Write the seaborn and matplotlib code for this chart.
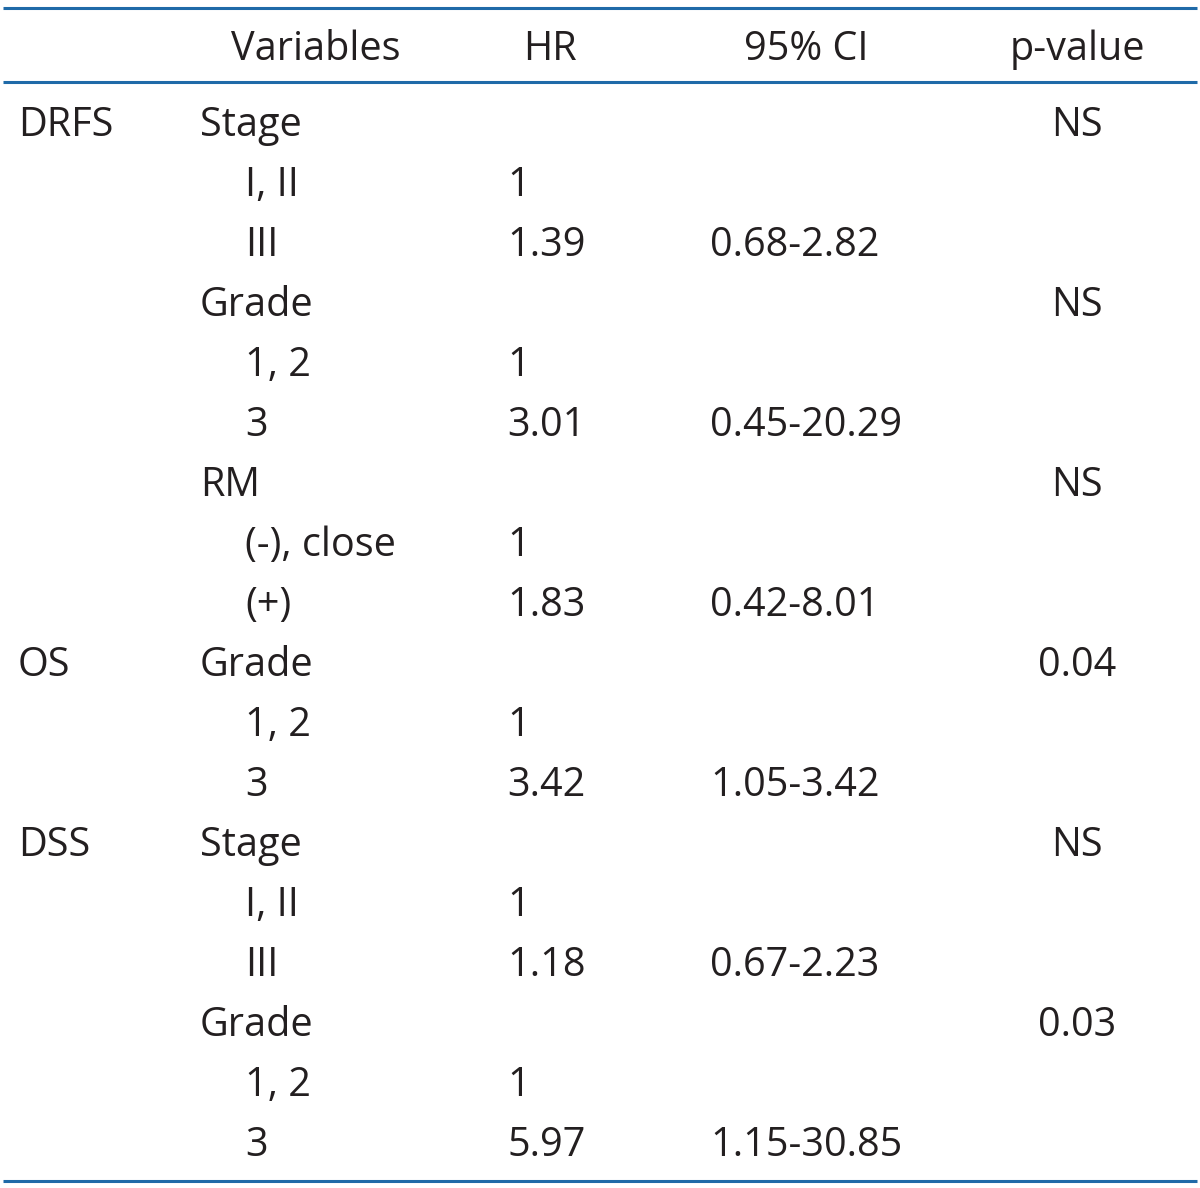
import matplotlib
matplotlib.use("Agg")
import matplotlib.pyplot as plt
import seaborn as sns

# Table content, one entry per body row
outcomes = ["DRFS", "", "", "", "", "", "", "", "", "OS", "", "", "DSS", "", "", "", "", ""]
variables = ["Stage", "I, II", "III", "Grade", "1, 2", "3", "RM", "(-), close", "(+)",
             "Grade", "1, 2", "3", "Stage", "I, II", "III", "Grade", "1, 2", "3"]
is_sublevel = [False, True, True, False, True, True, False, True, True,
               False, True, True, False, True, True, False, True, True]
hr = ["", "1", "1.39", "", "1", "3.01", "", "1", "1.83",
      "", "1", "3.42", "", "1", "1.18", "", "1", "5.97"]
ci = ["", "", "0.68-2.82", "", "", "0.45-20.29", "", "", "0.42-8.01",
      "", "", "1.05-3.42", "", "", "0.67-2.23", "", "", "1.15-30.85"]
pvalues = ["NS", "", "", "NS", "", "", "NS", "", "",
           "0.04", "", "", "NS", "", "", "0.03", "", ""]
headers = ["", "Variables", "HR", "95% CI", "p-value"]

sns.set_theme(style="white")
plt.rcParams["font.family"] = ["Open Sans", "DejaVu Sans"]

RULE = "#1f6aa8"
INK = "#231f20"
FS = 28.5

fig = plt.figure(figsize=(12, 11.88), dpi=100)
ax = fig.add_axes([0, 0, 1, 1])
ax.set_xlim(0, 1200)
ax.set_ylim(1188, 0)
ax.axis("off")

# rules
for y in (8, 82, 1181):
    ax.plot([3, 1197], [y, y], color=RULE, lw=2.2, solid_capstyle="butt")

# header
header_y = 50
ax.text(316, header_y, headers[1], ha="center", va="center", fontsize=FS, color=INK)
ax.text(550, header_y, headers[2], ha="center", va="center", fontsize=FS, color=INK)
ax.text(806, header_y, headers[3], ha="center", va="center", fontsize=FS, color=INK)
ax.text(1077, header_y, headers[4], ha="center", va="center", fontsize=FS, color=INK)

for i in range(len(variables)):
    y = 126 + 60 * i
    if outcomes[i]:
        ax.text(18, y, outcomes[i], ha="left", va="center", fontsize=FS, color=INK)
    x_var = 245 if is_sublevel[i] else 200
    ax.text(x_var, y, variables[i], ha="left", va="center", fontsize=FS, color=INK)
    if hr[i]:
        ax.text(507, y, hr[i], ha="left", va="center", fontsize=FS, color=INK)
    if ci[i]:
        ax.text(710, y, ci[i], ha="left", va="center", fontsize=FS, color=INK)
    if pvalues[i]:
        ax.text(1077, y, pvalues[i], ha="center", va="center", fontsize=FS, color=INK)

fig.savefig("out.png", dpi=100, facecolor="white")
